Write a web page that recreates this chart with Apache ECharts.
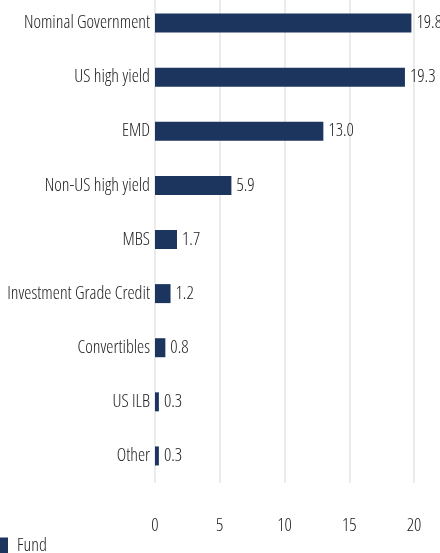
<!DOCTYPE html>
<html><head><meta charset="utf-8">
<script src="https://cdn.jsdelivr.net/npm/echarts@6/dist/echarts.min.js"></script>
<style>html,body{margin:0;padding:0;background:#fff}#c{width:440px;height:553px}</style>
</head><body><div id="c"></div>
<script>
const categories = ["Nominal Government","US high yield","EMD","Non-US high yield","MBS","Investment Grade Credit","Convertibles","US ILB","Other"];
const fundValues = [19.8,19.3,13.0,5.9,1.7,1.2,0.8,0.3,0.3];
const xTicks = [0,5,10,15,20];
const FONT = '"Open Sans",sans-serif';
const TXT = {fontFamily:FONT,fontStyle:'condensed',fontWeight:300,fontSize:18,color:'#222'};
const chart = echarts.init(document.getElementById('c'), null, {renderer:'canvas'});
chart.setOption({
  animation:false,
  textStyle:{fontFamily:FONT},
  grid:{left:155,right:26,top:-4,bottom:70,containLabel:false,outerBoundsMode:'none'},
  legend:{data:['Fund'],left:0,top:537,padding:0,itemWidth:8,itemHeight:17,itemGap:10,
    icon:'rect',textStyle:Object.assign({},TXT,{padding:[0,0,0,4]})},
  xAxis:{type:'value',min:xTicks[0],max:xTicks[xTicks.length-1],interval:5,
    axisLine:{show:false},axisTick:{show:false},
    axisLabel:Object.assign({},TXT,{margin:34}),
    splitLine:{show:true,lineStyle:{color:'#ebebeb',width:2}}},
  yAxis:{type:'category',data:categories,inverse:true,
    axisLine:{show:false},axisTick:{show:false},
    axisLabel:Object.assign({},TXT,{margin:5})},
  series:[{name:'Fund',type:'bar',data:fundValues,barWidth:19,
    itemStyle:{color:'#1c355e'},
    label:Object.assign({show:true,position:'right',distance:5},TXT,{formatter:p=>p.value.toFixed(1)})}]
});
</script></body></html>
